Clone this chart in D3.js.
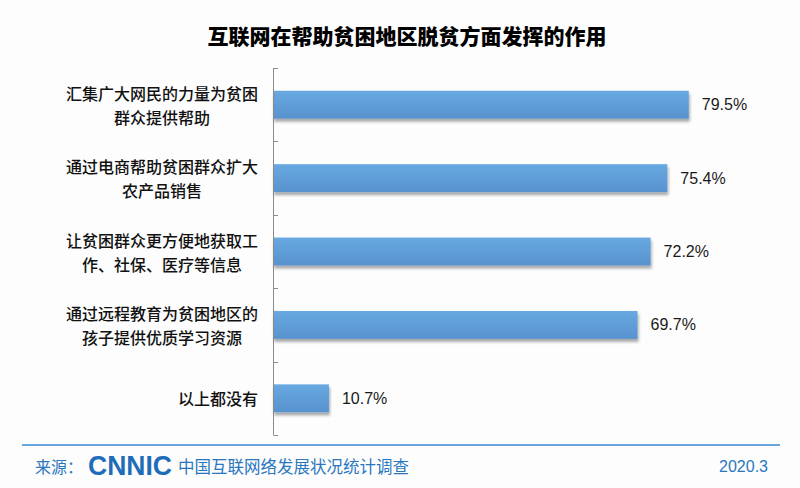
<!DOCTYPE html>
<html><head><meta charset="utf-8">
<script src="https://cdn.jsdelivr.net/npm/d3@7/dist/d3.min.js"></script>
<style>
body{margin:0;background:#fff;}
svg{display:block;}
</style></head>
<body><svg id="c" width="800" height="488"></svg>
<script>
const title = "互联网在帮助贫困地区脱贫方面发挥的作用";
const categories = [
  ["汇集广大网民的力量为贫困","群众提供帮助"],
  ["通过电商帮助贫困群众扩大","农产品销售"],
  ["让贫困群众更方便地获取工","作、社保、医疗等信息"],
  ["通过远程教育为贫困地区的","孩子提供优质学习资源"],
  ["以上都没有"]
];
const values = [79.5, 75.4, 72.2, 69.7, 10.7];
const valueLabels = ["79.5%","75.4%","72.2%","69.7%","10.7%"];
const sourceLabel = "来源：";
const sourceOrg = "CNNIC";
const sourceName = "中国互联网络发展状况统计调查";
const dateLabel = "2020.3";

const svg = d3.select("#c");
const cjk = "'Noto Sans CJK SC','Noto Sans',sans-serif";
const lat = "'Liberation Sans',Arial,sans-serif";

svg.append("rect").attr("width",800).attr("height",488).attr("fill","#fdfdfd");

const defs = svg.append("defs");
const g = defs.append("linearGradient").attr("id","bg").attr("x1",0).attr("y1",0).attr("x2",0).attr("y2",1);
g.append("stop").attr("offset","0%").attr("stop-color","#68a9e1");
g.append("stop").attr("offset","100%").attr("stop-color","#5892cf");
const f = defs.append("filter").attr("id","sh").attr("x","-5%").attr("y","-30%").attr("width","110%").attr("height","180%");
f.append("feDropShadow").attr("dx",1).attr("dy",3).attr("stdDeviation",1.8).attr("flood-color","#000").attr("flood-opacity",0.35);

const x = d3.scaleLinear().domain([0,100]).range([273,796]);
const y = d3.scaleBand().domain(d3.range(categories.length)).range([68,435]).paddingInner(0.62).paddingOuter(0.31);

// title
svg.append("text").attr("x",407).attr("y",35).attr("text-anchor","middle").attr("dominant-baseline","central")
  .attr("font-family",cjk).attr("font-weight",900).attr("font-size",21).attr("fill","#000").text(title);

// bars
svg.append("g").selectAll("rect").data(values).join("rect")
  .attr("x",x(0)).attr("y",(d,i)=>y(i)).attr("width",d=>x(d)-x(0)).attr("height",y.bandwidth())
  .attr("fill","url(#bg)").attr("filter","url(#sh)");

// axis
const step = y.step();
const bounds = d3.range(categories.length+1).map(i=>68+i*step);
const ax = svg.append("g").attr("stroke","#8a8a8a").attr("stroke-width",1);
ax.append("line").attr("x1",273.5).attr("x2",273.5).attr("y1",68).attr("y2",435);
ax.selectAll("line.t").data(bounds).join("line").attr("class","t")
  .attr("x1",273.5).attr("x2",278).attr("y1",d=>Math.round(d)+0.5).attr("y2",d=>Math.round(d)+0.5);

// value labels
svg.append("g").selectAll("text").data(values).join("text")
  .attr("x",d=>x(d)+13).attr("y",(d,i)=>y(i)+y.bandwidth()/2).attr("dominant-baseline","central")
  .attr("font-family",lat).attr("font-size",16).attr("fill","#1a1a1a").text((d,i)=>valueLabels[i]);

// category labels
const fs = 16, lh = 24, right = 258;
categories.forEach((lines,i)=>{
  const cy = y(i)+y.bandwidth()/2;
  const t = svg.append("text").attr("font-family",cjk).attr("font-size",fs).attr("fill","#111")
    .attr("font-weight",500).attr("text-anchor","middle");
  const spans = lines.map((l,j)=>t.append("tspan").attr("y",cy+(j-(lines.length-1)/2)*lh).attr("dominant-baseline","central").text(l));
  let maxW = 0;
  spans.forEach(s=>{maxW=Math.max(maxW,s.node().getComputedTextLength());});
  spans.forEach(s=>s.attr("x",right-maxW/2));
});

// footer
svg.append("line").attr("x1",22).attr("x2",780).attr("y1",445).attr("y2",445).attr("stroke","#6aa6dc").attr("stroke-width",2);
const blue = "#2a77c0";
svg.append("text").attr("x",35).attr("y",466).attr("dominant-baseline","central").attr("font-family",cjk)
  .attr("font-size",16).attr("fill",blue).text(sourceLabel);
svg.append("text").attr("x",88).attr("y",466).attr("dominant-baseline","central").attr("font-family",lat)
  .attr("font-weight",700).attr("font-size",27).attr("fill","#1f6db8").attr("textLength",84).attr("lengthAdjust","spacingAndGlyphs").text(sourceOrg);
svg.append("text").attr("x",178).attr("y",466).attr("dominant-baseline","central").attr("font-family",cjk)
  .attr("font-size",16.5).attr("fill",blue).text(sourceName);
svg.append("text").attr("x",768).attr("y",466).attr("text-anchor","end").attr("dominant-baseline","central").attr("font-family",lat)
  .attr("font-size",16).attr("fill",blue).text(dateLabel);
</script></body></html>
